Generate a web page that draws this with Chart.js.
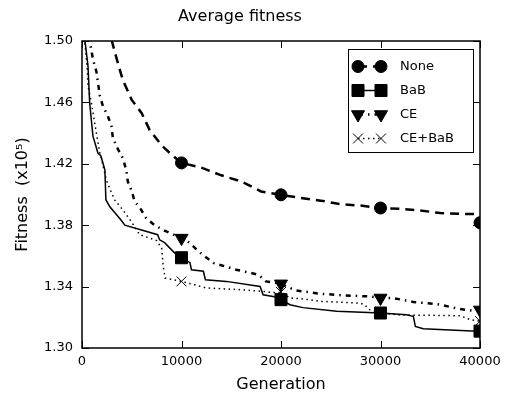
<!DOCTYPE html>
<html>
<head>
<meta charset="utf-8">
<script src="https://cdn.jsdelivr.net/npm/chart.js@4/dist/chart.umd.min.js"></script>
<style>
  html, body { margin: 0; padding: 0; background: #fff; }
  #wrap { width: 507px; height: 394px; }
</style>
</head>
<body>
<div id="wrap"><canvas id="myChart" width="507" height="394"></canvas></div>
<script>
// series data (generation, fitness x10^5)
const noneGen = [2500, 3000, 3600, 4100, 5000, 6000, 6800, 8000, 9000, 10000, 12000, 14000, 16000, 18000, 20000, 22000, 24000, 26000, 28000, 30000, 32000, 34000, 36000, 38000, 39700, 40000]
const noneFit = [1.510, 1.500, 1.4857, 1.4746, 1.4616, 1.453, 1.442, 1.432, 1.426, 1.4206, 1.4175, 1.4125, 1.4085, 1.402, 1.3998, 1.3977, 1.396, 1.3937, 1.3928, 1.3912, 1.3907, 1.3896, 1.3879, 1.3874, 1.3872, 1.3816]

const babGen = [0, 300, 600, 770, 1100, 1600, 1900, 2300, 2400, 2800, 3900, 4300, 5900, 7600, 7800, 8300, 9300, 10000, 10850, 11000, 12200, 12400, 14500, 17900, 18200, 19200, 20000, 20900, 22200, 25600, 30000, 32600, 33300, 33500, 34300, 39700, 40000]
const babFit = [1.505, 1.500, 1.484, 1.4597, 1.438, 1.427, 1.4251, 1.416, 1.3966, 1.392, 1.3835, 1.380, 1.377, 1.3738, 1.3705, 1.3686, 1.362, 1.3588, 1.3556, 1.351, 1.350, 1.3445, 1.3434, 1.3401, 1.3347, 1.3336, 1.3315, 1.3282, 1.3263, 1.3239, 1.3228, 1.3217, 1.3206, 1.3141, 1.3126, 1.3109, 1.311]

const ceGen = [700, 900, 1100, 1450, 1600, 1800, 2100, 2600, 2950, 3100, 3600, 4100, 4450, 4600, 4950, 5300, 5950, 6450, 7300, 8300, 10000, 10850, 11700, 13200, 15500, 17700, 18500, 20000, 21400, 23900, 26200, 28900, 30000, 31200, 33300, 35600, 38000, 39000, 40000]
const ceFit = [1.503, 1.4956, 1.488, 1.480, 1.473, 1.464, 1.4577, 1.451, 1.4447, 1.437, 1.4297, 1.4237, 1.416, 1.4085, 1.403, 1.3955, 1.390, 1.3846, 1.380, 1.3764, 1.3716, 1.3684, 1.363, 1.3554, 1.351, 1.3478, 1.3434, 1.3418, 1.3376, 1.3354, 1.3343, 1.3336, 1.3326, 1.3326, 1.330, 1.3287, 1.3254, 1.3245, 1.3248]

const cebabGen = [200, 530, 600, 940, 1270, 1780, 1940, 2440, 2780, 3280, 4100, 4950, 5800, 6300, 7500, 8000, 8170, 8350, 10000, 12500, 15900, 18200, 19600, 20000, 20900, 22200, 23900, 27900, 28400, 28900, 30000, 32000, 35000, 38000, 39000, 40000]
const cebabFit = [1.505, 1.4816, 1.4707, 1.4599, 1.4468, 1.4273, 1.4237, 1.4096, 1.404, 1.3965, 1.390, 1.3824, 1.3738, 1.3727, 1.370, 1.3651, 1.3532, 1.3456, 1.3434, 1.3391, 1.338, 1.3369, 1.3358, 1.3365, 1.3326, 1.332, 1.3304, 1.3293, 1.3282, 1.325, 1.3228, 1.3215, 1.3213, 1.321, 1.3185, 1.3175]

const seriesNames = ['None', 'BaB', 'CE', 'CE+BaB']
const yTicks = [1.30, 1.34, 1.38, 1.42, 1.46, 1.50]
const xTicks = [0, 10000, 20000, 30000, 40000]

function toPoints(gen, fit) {
    return gen.map((g, i) => ({ x: g, y: fit[i] }))
}

// markers only every 10000 generations
function markerAt(r) {
    return function (ctx) {
        const p = ctx.raw
        return (p && p.x > 0 && p.x % 10000 === 0) ? r : 0
    }
}

const FONT = 'DejaVu Sans'

// inward ticks on all four sides + frame, like the original plot
const frameTicks = {
    id: 'frameTicks',
    afterDatasetsDraw(chart) {
        const { ctx, chartArea: a, scales } = chart
        const len = 7
        ctx.save()
        ctx.strokeStyle = '#000'
        ctx.lineWidth = 1
        xTicks.forEach(v => {
            const px = Math.round(scales.x.getPixelForValue(v)) + 0.5
            ctx.beginPath()
            ctx.moveTo(px, a.bottom); ctx.lineTo(px, a.bottom - len)
            ctx.moveTo(px, a.top); ctx.lineTo(px, a.top + len)
            ctx.stroke()
        })
        yTicks.forEach(v => {
            const py = Math.round(scales.y.getPixelForValue(v)) + 0.5
            ctx.beginPath()
            ctx.moveTo(a.left, py); ctx.lineTo(a.left + len, py)
            ctx.moveTo(a.right, py); ctx.lineTo(a.right - len, py)
            ctx.stroke()
        })
        ctx.lineWidth = 1.5
        ctx.strokeRect(a.left, a.top, a.right - a.left, a.bottom - a.top)
        ctx.restore()
    }
}

// matplotlib-like legend box (marker - line - marker, label)
const boxLegend = {
    id: 'boxLegend',
    afterDatasetsDraw(chart) {
        const { ctx } = chart
        const bx = 348, by = 49, bw = 125, bh = 103
        ctx.save()
        ctx.fillStyle = '#fff'
        ctx.fillRect(bx, by, bw, bh)
        ctx.strokeStyle = '#000'
        ctx.lineWidth = 1
        ctx.strokeRect(bx + 0.5, by + 0.5, bw, bh)
        chart.data.datasets.forEach((ds, i) => {
            const y = 66.5 + i * 24
            const x1 = 358, x2 = 381
            ctx.beginPath()
            ctx.setLineDash(ds.borderDash || [])
            ctx.lineWidth = ds.borderWidth
            ctx.strokeStyle = '#000'
            ctx.moveTo(x1, y); ctx.lineTo(x2, y)
            ctx.stroke()
            ctx.setLineDash([])
            const opts = {
                pointStyle: ds.pointStyle,
                radius: ds.legendRadius,
                rotation: ds.pointRotation || 0,
                borderWidth: ds.pointBorderWidth
            }
            ctx.fillStyle = '#000'
            ctx.strokeStyle = '#000'
            ctx.lineWidth = ds.pointBorderWidth
            Chart.helpers.drawPoint(ctx, opts, x1, y)
            Chart.helpers.drawPoint(ctx, opts, x2, y)
            ctx.fillStyle = '#000'
            ctx.font = '13px "' + FONT + '"'
            ctx.textBaseline = 'middle'
            ctx.textAlign = 'left'
            ctx.fillText(ds.label, 400, y)
        })
        ctx.restore()
    }
}

const ctx = document.getElementById('myChart')

new Chart(ctx, {
    type: 'line',
    data: {
        datasets: [
            {
                label: seriesNames[0],
                data: toPoints(noneGen, noneFit),
                borderColor: '#000', backgroundColor: '#000',
                borderWidth: 2.5, borderDash: [9, 6],
                pointStyle: 'circle', pointRadius: markerAt(6), legendRadius: 6,
                pointBorderWidth: 1, order: 4
            },
            {
                label: seriesNames[1],
                data: toPoints(babGen, babFit),
                borderColor: '#000', backgroundColor: '#000',
                borderWidth: 1.5,
                pointStyle: 'rect', pointRadius: markerAt(8.5), legendRadius: 8.5,
                pointBorderWidth: 1, order: 3
            },
            {
                label: seriesNames[2],
                data: toPoints(ceGen, ceFit),
                borderColor: '#000', backgroundColor: '#000',
                borderWidth: 2.5, borderDash: [5, 5, 1.5, 5],
                pointStyle: 'triangle', pointRotation: 180, pointRadius: markerAt(7.5), legendRadius: 7.5,
                pointBorderWidth: 1, order: 2
            },
            {
                label: seriesNames[3],
                data: toPoints(cebabGen, cebabFit),
                borderColor: '#000', backgroundColor: '#000',
                borderWidth: 1.5, borderDash: [1.5, 3.5],
                pointStyle: 'crossRot', pointRadius: markerAt(7), legendRadius: 7,
                pointBorderWidth: 1, order: 1
            }
        ]
    },
    options: {
        responsive: false,
        animation: false,
        layout: { padding: { left: 0, right: 27, top: 0, bottom: 0 } },
        elements: { line: { tension: 0 } },
        plugins: {
            legend: { display: false },
            tooltip: { enabled: false },
            title: {
                display: true,
                text: 'Average fitness',
                color: '#000',
                font: { family: FONT, size: 16, weight: 'normal' },
                padding: { top: 7, bottom: 14.8 }
            }
        },
        scales: {
            x: {
                type: 'linear',
                min: 0, max: 40000,
                afterFit(s) { s.height = 46 },
                grid: { display: false, drawTicks: false },
                border: { display: false },
                ticks: {
                    stepSize: 10000, padding: 6, color: '#000', maxRotation: 0,
                    font: { family: FONT, size: 13 },
                    callback: v => String(v)
                },
                title: {
                    display: true, text: 'Generation', color: '#000',
                    font: { family: FONT, size: 16 },
                    padding: { top: 0, bottom: 0 }
                }
            },
            y: {
                min: 1.30, max: 1.50,
                afterFit(s) { s.width = 82 },
                grid: { display: false, drawTicks: false },
                border: { display: false },
                ticks: {
                    stepSize: 0.04, padding: 9, color: '#000',
                    font: { family: FONT, size: 13 },
                    callback: v => Number(v).toFixed(2)
                },
                title: {
                    display: true, text: 'Fitness  (x10\u2075)', color: '#000',
                    font: { family: FONT, size: 16 },
                    padding: { top: 13, bottom: 0 }
                }
            }
        }
    },
    plugins: [frameTicks, boxLegend]
})
</script>
</body>
</html>
